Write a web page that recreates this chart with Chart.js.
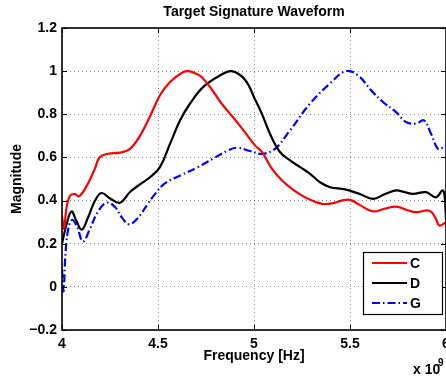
<!DOCTYPE html>
<html><head><meta charset="utf-8">
<script src="https://cdn.jsdelivr.net/npm/chart.js@4/dist/chart.umd.min.js"></script>
<style>
html,body{margin:0;padding:0;overflow:hidden;background:#fff;width:446px;height:377px}
#wrap{position:absolute;left:0;top:0;width:480px;height:377px}
</style>
</head><body><div id="wrap"><canvas id="c" width="480" height="377"></canvas></div>
<script>
// ---- data (frequency in units of 1e9 Hz) ----
const freqC = [4.000, 4.010, 4.026, 4.045, 4.068, 4.090, 4.135, 4.172, 4.196, 4.240, 4.302, 4.354, 4.406, 4.458, 4.510, 4.563, 4.630, 4.660, 4.693, 4.727, 4.780, 4.831, 4.918, 5.005, 5.042, 5.094, 5.146, 5.198, 5.250, 5.302, 5.354, 5.406, 5.458, 5.500, 5.550, 5.618, 5.680, 5.740, 5.800, 5.844, 5.913, 5.945, 5.965, 6.000];
const magC  = [0.33, 0.27, 0.38, 0.425, 0.43, 0.42, 0.478, 0.55, 0.60, 0.617, 0.622, 0.64, 0.70, 0.79, 0.888, 0.95, 0.995, 1.0, 0.99, 0.973, 0.915, 0.85, 0.757, 0.656, 0.625, 0.547, 0.493, 0.454, 0.423, 0.40, 0.385, 0.387, 0.40, 0.403, 0.38, 0.35, 0.362, 0.372, 0.355, 0.346, 0.353, 0.32, 0.284, 0.30];

const freqD = [4.000, 4.021, 4.049, 4.073, 4.102, 4.135, 4.172, 4.206, 4.250, 4.302, 4.354, 4.406, 4.458, 4.510, 4.563, 4.615, 4.667, 4.736, 4.823, 4.884, 4.953, 5.005, 5.042, 5.083, 5.135, 5.188, 5.240, 5.292, 5.344, 5.396, 5.474, 5.552, 5.620, 5.682, 5.740, 5.781, 5.828, 5.896, 5.948, 5.982, 5.993, 6.000];
const magD  = [0.20, 0.28, 0.35, 0.31, 0.265, 0.32, 0.40, 0.435, 0.41, 0.39, 0.44, 0.475, 0.508, 0.555, 0.664, 0.772, 0.85, 0.927, 0.98, 1.0, 0.96, 0.87, 0.80, 0.71, 0.625, 0.586, 0.555, 0.524, 0.485, 0.462, 0.452, 0.43, 0.408, 0.43, 0.447, 0.44, 0.431, 0.439, 0.415, 0.447, 0.42, 0.31];

const freqG = [4.000, 4.008, 4.018, 4.031, 4.052, 4.078, 4.109, 4.146, 4.188, 4.234, 4.276, 4.313, 4.349, 4.396, 4.443, 4.484, 4.536, 4.625, 4.708, 4.786, 4.859, 4.911, 4.979, 5.042, 5.109, 5.188, 5.292, 5.396, 5.479, 5.542, 5.609, 5.672, 5.740, 5.792, 5.844, 5.885, 5.922, 5.958, 5.984, 6.000];
const magG  = [0.08, -0.02, 0.15, 0.26, 0.31, 0.28, 0.21, 0.27, 0.35, 0.39, 0.37, 0.32, 0.29, 0.32, 0.38, 0.43, 0.48, 0.52, 0.555, 0.594, 0.63, 0.645, 0.63, 0.617, 0.64, 0.726, 0.85, 0.943, 1.0, 0.98, 0.912, 0.857, 0.81, 0.764, 0.757, 0.772, 0.71, 0.64, 0.645, 0.65];

const seriesLabels = ['C', 'D', 'G'];
const xTicks = [4, 4.5, 5, 5.5, 6];
const yTicks = [-0.2, 0, 0.2, 0.4, 0.6, 0.8, 1, 1.2];

const FONT = "'Liberation Sans', Arial, Helvetica, sans-serif";
const pts = (xs, ys) => xs.map((x, i) => ({x, y: ys[i]}));
const dashG = [8, 3, 1.5, 3];

const framePlugin = {
  id: 'frame',
  afterDatasetsDraw(chart) {
    const {ctx, chartArea: a, scales: {x, y}} = chart;
    ctx.save();
    // inward tick marks
    ctx.strokeStyle = '#000'; ctx.lineWidth = 1; ctx.setLineDash([]);
    const tl = 5;
    ctx.beginPath();
    xTicks.forEach(v => {
      const px = Math.round(x.getPixelForValue(v)) + 0.5;
      ctx.moveTo(px, a.bottom); ctx.lineTo(px, a.bottom - tl);
      ctx.moveTo(px, a.top); ctx.lineTo(px, a.top + tl);
    });
    yTicks.forEach(v => {
      const py = Math.round(y.getPixelForValue(v)) + 0.5;
      ctx.moveTo(a.left, py); ctx.lineTo(a.left + tl, py);
      ctx.moveTo(a.right, py); ctx.lineTo(a.right - tl, py);
    });
    ctx.stroke();
    // box
    ctx.lineWidth = 1.6;
    ctx.strokeRect(a.left, a.top, a.right - a.left, a.bottom - a.top);

    // legend
    const lx = a.right - 83, ly = a.bottom - 78, lw = 79, lh = 62;
    ctx.fillStyle = '#fff';
    ctx.fillRect(lx, ly, lw, lh);
    ctx.lineWidth = 1.2; ctx.strokeStyle = '#000';
    ctx.strokeRect(lx + 0.5, ly + 0.5, lw, lh);
    chart.data.datasets.forEach((ds, i) => {
      const yy = ly + 11 + i * 20;
      ctx.beginPath();
      ctx.strokeStyle = ds.borderColor; ctx.lineWidth = 2.2;
      ctx.setLineDash(ds.borderDash || []);
      ctx.moveTo(lx + 9, yy); ctx.lineTo(lx + 44, yy);
      ctx.stroke();
      ctx.setLineDash([]);
      ctx.fillStyle = '#000';
      ctx.font = "bold 14px " + FONT;
      ctx.textBaseline = 'middle'; ctx.textAlign = 'left';
      ctx.fillText(ds.label, lx + 47, yy + 1);
    });

    // exponent label
    ctx.fillStyle = '#000';
    ctx.textAlign = 'left'; ctx.textBaseline = 'alphabetic';
    ctx.font = "bold 14px " + FONT;
    ctx.fillText('x 10', 413, 374);
    ctx.font = "bold 10px " + FONT;
    ctx.fillText('9', 438, 366);
    ctx.restore();
  }
};

const tickFont = {family: FONT, size: 14, weight: 'bold'};

new Chart(document.getElementById('c'), {
  type: 'line',
  data: {
    datasets: [
      {label: seriesLabels[0], data: pts(freqC, magC), borderColor: '#ff0000', borderWidth: 2.2, pointRadius: 0, tension: 0.4, fill: false},
      {label: seriesLabels[1], data: pts(freqD, magD), borderColor: '#000000', borderWidth: 2.2, pointRadius: 0, tension: 0.4, fill: false},
      {label: seriesLabels[2], data: pts(freqG, magG), borderColor: '#0000ff', borderWidth: 2.2, borderDash: dashG, pointRadius: 0, tension: 0.4, fill: false}
    ]
  },
  options: {
    responsive: false,
    animation: false,
    layout: {padding: {left: 0, right: 34, top: 0, bottom: 0}},
    plugins: {
      legend: {display: false},
      tooltip: {enabled: false},
      title: {display: true, text: 'Target Signature Waveform', fullSize: false, color: '#000',
              font: {family: FONT, size: 14, weight: 'bold'}, padding: {top: 4, bottom: 7.2}}
    },
    scales: {
      x: {
        type: 'linear', min: 4, max: 6,
        afterBuildTicks: s => { s.ticks = xTicks.map(v => ({value: v})); },
        afterFit: s => { s.height = 47; },
        ticks: {color: '#000', font: tickFont, padding: 6, maxRotation: 0, autoSkip: false,
                callback: v => String(v)},
        grid: {color: 'rgba(0,0,0,0.45)', lineWidth: 1, drawTicks: false},
        border: {display: false, dash: [1, 3]},
        title: {display: true, text: 'Frequency [Hz]', color: '#000', font: tickFont, padding: {top: 0, bottom: 12}}
      },
      y: {
        type: 'linear', min: -0.2, max: 1.2,
        afterBuildTicks: s => { s.ticks = yTicks.map(v => ({value: v})); },
        afterFit: s => { s.width = 62; },
        ticks: {color: '#000', font: tickFont, padding: 5,
                callback: v => String(Math.round(v * 10) / 10).replace('-', '\u2212')},
        grid: {color: 'rgba(0,0,0,0.45)', lineWidth: 1, drawTicks: false},
        border: {display: false, dash: [1, 3]},
        title: {display: true, text: 'Magnitude', color: '#000', font: tickFont, padding: {top: 9, bottom: 0}}
      }
    }
  },
  plugins: [framePlugin]
});
</script>
</body></html>
